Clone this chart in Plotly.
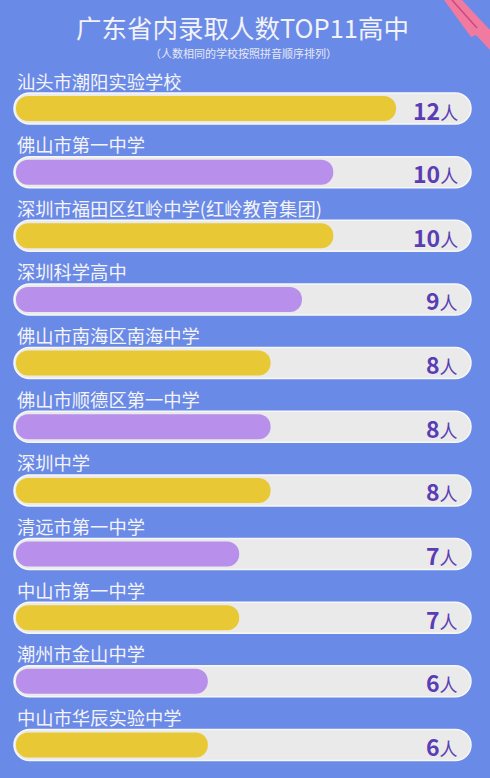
import plotly.graph_objects as go

schools = [
    "汕头市潮阳实验学校",
    "佛山市第一中学",
    "深圳市福田区红岭中学(红岭教育集团)",
    "深圳科学高中",
    "佛山市南海区南海中学",
    "佛山市顺德区第一中学",
    "深圳中学",
    "清远市第一中学",
    "中山市第一中学",
    "潮州市金山中学",
    "中山市华辰实验中学",
]
counts = [12, 10, 10, 9, 8, 8, 8, 7, 7, 6, 6]
unit = "人"
title_text = "广东省内录取人数TOP11高中"
subtitle_text = "（人数相同的学校按照拼音顺序排列）"

BG = "#6a8ae7"
YELLOW = "#e8c935"
PURPLE = "#b890eb"
TRACK = "#eaeaea"
VALUE_COLOR = "#5a3db4"
FONT = "Noto Sans CJK SC"

W, H = 490, 778
# pixel mapping helpers (layout only)
X0_PX, X_K = 19.6, 31.37
Y0_PX, Y_K = 108.5, 63.65
xr = [-X0_PX / X_K, (W - X0_PX) / X_K]
yr = [(H - Y0_PX) / Y_K, -Y0_PX / Y_K]

n = len(schools)
idx = list(range(n))
colors = [YELLOW if i % 2 == 0 else PURPLE for i in idx]

track_left = (14 - X0_PX) / X_K
track_right = (471 - X0_PX) / X_K
bar_base = (16 - X0_PX) / X_K

fig = go.Figure()
fig.add_trace(go.Bar(
    y=idx, x=[track_right - track_left] * n, base=track_left,
    orientation="h", width=31 / Y_K,
    marker=dict(color=TRACK, cornerradius="50%", line=dict(color="#f7f7f7", width=1.5)),
    hoverinfo="skip", showlegend=False,
))
fig.add_trace(go.Bar(
    y=idx, x=[v - bar_base for v in counts], base=bar_base,
    orientation="h", width=25 / Y_K,
    marker=dict(color=colors, cornerradius="50%", line=dict(width=0)),
    hoverinfo="skip", showlegend=False,
))

annotations = []
for i, (s, v) in enumerate(zip(schools, counts)):
    annotations.append(dict(
        x=(15 - X0_PX) / X_K, y=i - 28 / Y_K, xref="x", yref="y",
        text=s, showarrow=False, xanchor="left", yanchor="middle",
        font=dict(family=FONT, size=18.3, color="#f4f4f8"),
    ))
    annotations.append(dict(
        x=(460 - X0_PX) / X_K, y=i + 1 / Y_K, xref="x", yref="y",
        text=f"<b>{v}</b><span style='font-size:18px'>{unit}</span>",
        showarrow=False, xanchor="right", yanchor="middle",
        font=dict(family=FONT, size=23, color=VALUE_COLOR),
    ))

annotations.append(dict(
    x=0.494, y=1 - 27 / H, xref="paper", yref="paper", text=title_text,
    showarrow=False, xanchor="center", yanchor="middle",
    font=dict(family=FONT, size=25.5, color="#f2f2f7"),
))
annotations.append(dict(
    x=0.496, y=1 - 53 / H, xref="paper", yref="paper", text=subtitle_text,
    showarrow=False, xanchor="center", yanchor="middle",
    font=dict(family=FONT, size=11, color="#e6e8f5"),
))

shapes = [
    dict(type="path", xref="paper", yref="paper", layer="above",
         path=f"M {444/W} 1 L {462/W} 1 L {490/W} {1-30/H} L {490/W} {1-50/H} L {476/W} {1-35/H} L {471/W} {1-37/H} Z",
         fillcolor="#f07aa0", line=dict(width=0)),
    dict(type="line", xref="paper", yref="paper", layer="above",
         x0=452 / W, y0=1, x1=477 / W, y1=1 - 28 / H,
         line=dict(color="#c94a7a", width=1.5)),
]

fig.update_layout(
    width=W, height=H,
    margin=dict(l=0, r=0, t=0, b=0),
    paper_bgcolor=BG, plot_bgcolor=BG,
    barmode="overlay",
    xaxis=dict(range=xr, visible=False, fixedrange=True),
    yaxis=dict(range=yr, visible=False, fixedrange=True),
    annotations=annotations,
    shapes=shapes,
    showlegend=False,
)

fig.write_html(
    "out.html",
    config={"displayModeBar": False},
    post_script="document.body.style.margin='0';document.body.style.background='" + BG + "';",
)
